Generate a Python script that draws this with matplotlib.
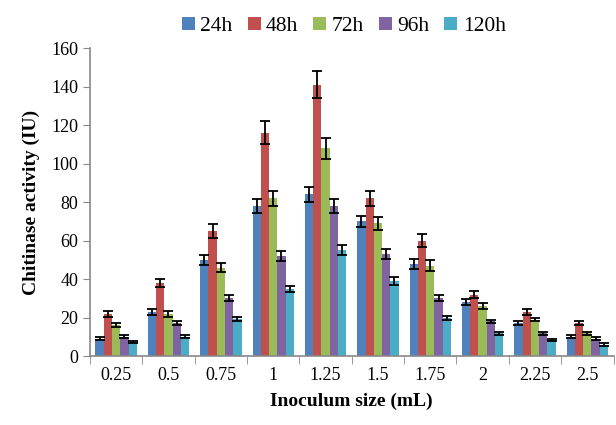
import matplotlib.pyplot as plt
import numpy as np

plt.rcParams['font.family'] = ['Liberation Serif', 'DejaVu Serif']

sizes = ['0.25', '0.5', '0.75', '1', '1.25', '1.5', '1.75', '2', '2.25', '2.5']
series = ['24h', '48h', '72h', '96h', '120h']
colors = ['#4f81bd', '#c0504d', '#9bbb59', '#8064a2', '#4bacc6']

h24 = [9, 23, 50, 78, 84, 70, 48, 28, 17, 10]
h48 = [22, 38, 65, 116, 141, 82, 60, 32, 23, 17]
h72 = [16, 22, 46, 82, 108, 69, 47, 26, 19, 12]
h96 = [10, 17, 30, 52, 78, 53, 30, 18, 12, 9]
h120 = [7.5, 10, 19.5, 35, 55, 39, 20, 12, 8.5, 6]

e24 = [0.8, 1.5, 2.5, 3.5, 4, 3, 2.5, 1.5, 1, 0.8]
e48 = [1.5, 2, 3.5, 6, 7, 4, 3.5, 2, 1.5, 1]
e72 = [1, 1.5, 2.5, 4, 5.5, 3.5, 3, 1.5, 1, 0.8]
e96 = [0.8, 1, 1.5, 2.5, 3.5, 2.5, 1.5, 1, 0.8, 0.8]
e120 = [0.6, 0.8, 1, 1.5, 2.5, 2, 1, 0.8, 0.6, 0.6]

values = [h24, h48, h72, h96, h120]
errors = [e24, e48, e72, e96, e120]

fig = plt.figure(figsize=(6.16, 4.25), dpi=100)
ax = fig.add_axes([0.146, 0.162, 0.85, 0.725])

x = np.arange(len(sizes))
w = 0.158
for i in range(5):
    ax.bar(x + (i - 2) * w, values[i], w, color=colors[i], label=series[i],
           yerr=errors[i], capsize=3.5,
           error_kw=dict(ecolor='black', elinewidth=1.3, capthick=1.3))

ax.set_xlim(-0.5, len(sizes) - 0.5)
ax.set_ylim(0, 160)
ax.set_yticks(range(0, 161, 20))
ax.set_xticks(x)
ax.set_xticklabels(sizes, fontsize=13)
ax.tick_params(axis='y', labelsize=13, direction='out', length=5, color='#888888')
ax.tick_params(axis='x', length=0, pad=8)
ax.set_xticks(np.arange(-0.5, len(sizes), 1), minor=True)
ax.tick_params(axis='x', which='minor', length=6, color='#888888', direction='out')

for s in ['top', 'right']:
    ax.spines[s].set_visible(False)
for s in ['left', 'bottom']:
    ax.spines[s].set_color('#888888')
    ax.spines[s].set_linewidth(1.2)

ax.set_xlabel('Inoculum size (mL)', fontsize=14, fontweight='bold', labelpad=6)
ax.set_ylabel('Chitinase activity (IU)', fontsize=14, fontweight='bold', labelpad=8)

ax.legend(loc='upper center', bbox_to_anchor=(0.485, 1.165), ncol=5, frameon=False,
          fontsize=15.5, handlelength=0.6, handleheight=0.6, handletextpad=0.25,
          columnspacing=0.7)

fig.savefig('out.png', dpi=100)
